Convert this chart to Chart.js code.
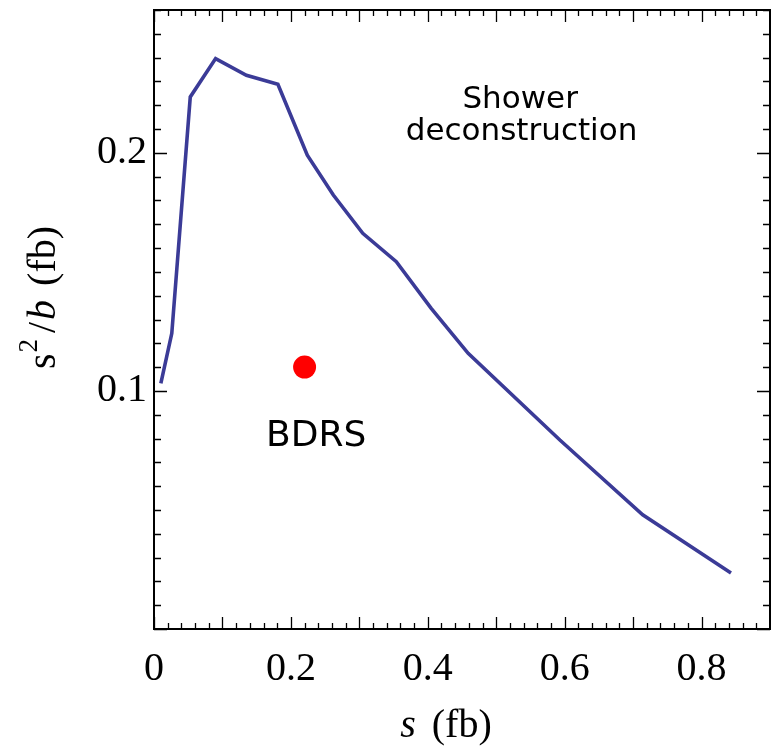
<!DOCTYPE html>
<html lang="en">
<head>
    <meta charset="UTF-8">
    <title>s^2/b versus s</title>
    <script src="https://cdn.jsdelivr.net/npm/chart.js"></script>
    <style>
        html, body {
            margin: 0;
            padding: 0;
            background-color: #fff;
        }
    </style>
</head>
<body>

    <canvas id="sbChart" width="771" height="752"></canvas>

    <script>
        // Shower deconstruction curve: s (fb) and s^2/b (fb)
        var showerS   = [0.010, 0.026, 0.053, 0.090, 0.135, 0.181, 0.224, 0.262, 0.305, 0.354, 0.405, 0.459, 0.593, 0.714, 0.843];
        var showerS2b = [0.1032, 0.1242, 0.2235, 0.2396, 0.2326, 0.2288, 0.1990, 0.1823, 0.1662, 0.1543, 0.1347, 0.1158, 0.0794, 0.0480, 0.0235];

        // BDRS point
        var bdrsS   = [0.220];
        var bdrsS2b = [0.110];

        // tick labels
        var xTickValues = [0, 0.2, 0.4, 0.6, 0.8];
        var yTickValues = [0.1, 0.2];

        // text labels inside the plot, anchored in data units (baseline)
        var noteText = ['Shower', 'deconstruction', 'BDRS'];
        var noteS    = [0.535, 0.537, 0.237];
        var noteS2b  = [0.219, 0.2053, 0.0769];

        var serif = '"Liberation Serif", "DejaVu Serif", serif';
        var hand = '"DejaVu Sans", "Noto Sans", sans-serif';

        function toPoints(xs, ys) {
            var pts = [];
            for (var i = 0; i < xs.length; i++) {
                pts.push({ x: xs[i], y: ys[i] });
            }
            return pts;
        }

        // draw a run of text pieces (some italic / raised) centred on cx
        function drawPieces(ctx, pieces, cx, baseY) {
            var total = 0;
            pieces.forEach(function (p) {
                ctx.font = p.font;
                p.w = ctx.measureText(p.t).width;
                total += p.w + (p.gap || 0);
            });
            var x = cx - total / 2;
            pieces.forEach(function (p) {
                ctx.font = p.font;
                ctx.fillText(p.t, x, baseY - (p.rise || 0));
                x += p.w + (p.gap || 0);
            });
        }

        // no extra room for half labels at the ends of the axes
        function noEndPadding(scale) {
            scale.paddingTop = 0;
            scale.paddingBottom = 0;
            scale.paddingLeft = 0;
            scale.paddingRight = 0;
        }

        // frame with inward ticks on all four sides, titles and notes
        var decorations = {
            id: 'decorations',
            afterDatasetsDraw: function (chart) {
                var ctx = chart.ctx;
                var a = chart.chartArea;
                var xs = chart.scales.x;
                var ys = chart.scales.y;
                var i, px, len;

                ctx.save();
                ctx.strokeStyle = '#000';
                ctx.lineWidth = 1.3;
                ctx.beginPath();
                for (i = 0; i <= 45; i++) {
                    px = Math.round(xs.getPixelForValue(i * 0.02)) + 0.5;
                    len = (i % 5 === 0) ? 12 : 6;
                    ctx.moveTo(px, a.bottom);
                    ctx.lineTo(px, a.bottom - len);
                    ctx.moveTo(px, a.top);
                    ctx.lineTo(px, a.top + len);
                }
                for (i = 0; i <= 26; i++) {
                    px = Math.round(ys.getPixelForValue(i * 0.01)) + 0.5;
                    len = (i % 10 === 0) ? 13 : 7;
                    ctx.moveTo(a.left, px);
                    ctx.lineTo(a.left + len, px);
                    ctx.moveTo(a.right, px);
                    ctx.lineTo(a.right - len, px);
                }
                ctx.stroke();

                ctx.lineWidth = 2;
                ctx.strokeRect(a.left, a.top, a.right - a.left, a.bottom - a.top);

                // notes
                ctx.fillStyle = '#000';
                ctx.textAlign = 'center';
                ctx.textBaseline = 'alphabetic';
                for (i = 0; i < noteText.length; i++) {
                    ctx.font = (noteText[i] === 'BDRS' ? '36px ' : '31px ') + hand;
                    ctx.fillText(noteText[i], xs.getPixelForValue(noteS[i]), ys.getPixelForValue(noteS2b[i]));
                }

                // axis titles
                ctx.textAlign = 'left';
                var midX = (a.left + a.right) / 2;
                drawPieces(ctx, [
                    { t: 's', font: 'italic 40px ' + serif, gap: 16 },
                    { t: '(fb)', font: '40px ' + serif }
                ], midX - 16, 737);

                ctx.translate(55, (a.top + a.bottom) / 2 - 22);
                ctx.rotate(-Math.PI / 2);
                drawPieces(ctx, [
                    { t: 's', font: '40px ' + serif, gap: 1 },
                    { t: '2', font: '27px ' + serif, rise: 18, gap: 6 },
                    { t: '/', font: '40px ' + serif, gap: 2 },
                    { t: 'b', font: 'italic 40px ' + serif, gap: 14 },
                    { t: '(fb)', font: '40px ' + serif }
                ], 0, 0);
                ctx.restore();
            }
        };

        var ctx = document.getElementById('sbChart').getContext('2d');
        var sbChart = new Chart(ctx, {
            type: 'scatter',
            data: {
                datasets: [{
                    label: 'Shower deconstruction',
                    data: toPoints(showerS, showerS2b),
                    showLine: true,
                    borderColor: '#3b3b97',
                    borderWidth: 3.6,
                    pointRadius: 0,
                    tension: 0
                }, {
                    label: 'BDRS',
                    data: toPoints(bdrsS, bdrsS2b),
                    pointRadius: 11.5,
                    pointBackgroundColor: '#ff0000',
                    pointBorderWidth: 0
                }]
            },
            options: {
                responsive: false,
                animation: false,
                layout: {
                    autoPadding: false,
                    padding: { top: 10, right: 1, left: 0, bottom: 0 }
                },
                plugins: {
                    legend: { display: false },
                    tooltip: { enabled: false }
                },
                scales: {
                    x: {
                        type: 'linear',
                        min: 0,
                        max: 0.9,
                        grid: { display: false, drawTicks: false },
                        border: { display: false },
                        afterBuildTicks: function (scale) {
                            scale.ticks = xTickValues.map(function (v) { return { value: v }; });
                        },
                        afterFit: function (scale) {
                            scale.height = 123;
                            noEndPadding(scale);
                        },
                        ticks: {
                            padding: 16,
                            color: '#000',
                            font: { family: serif, size: 40 },
                            callback: function (v) { return v === 0 ? '0' : v.toFixed(1); }
                        }
                    },
                    y: {
                        type: 'linear',
                        min: 0,
                        max: 0.26,
                        grid: { display: false, drawTicks: false },
                        border: { display: false },
                        afterBuildTicks: function (scale) {
                            scale.ticks = yTickValues.map(function (v) { return { value: v }; });
                        },
                        afterFit: function (scale) {
                            scale.width = 154;
                            noEndPadding(scale);
                        },
                        ticks: {
                            padding: 7,
                            color: '#000',
                            font: { family: serif, size: 40 },
                            callback: function (v) { return v.toFixed(1); }
                        }
                    }
                }
            },
            plugins: [decorations]
        });
    </script>
</body>
</html>
